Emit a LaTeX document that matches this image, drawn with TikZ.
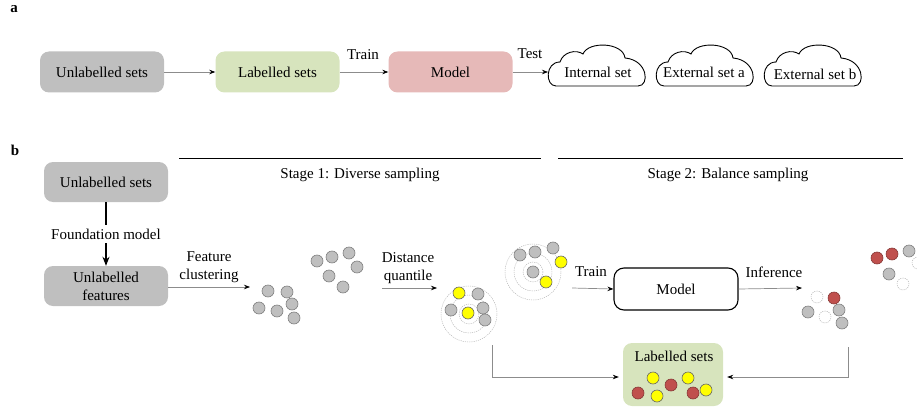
\documentclass[tikz,border=0pt]{standalone}
\usepackage{fontspec}
\setmainfont{Liberation Serif}
\usetikzlibrary{arrows.meta}
\definecolor{boxgray}{HTML}{BFBFBF}
\definecolor{boxgreen}{HTML}{D7E4BD}
\definecolor{boxred}{HTML}{E6B9B8}
\definecolor{dotgray}{HTML}{BFBFBF}
\definecolor{dotedge}{HTML}{7F7F7F}
\definecolor{dotyellow}{HTML}{FFFF00}
\definecolor{dotred}{HTML}{C0504D}
\definecolor{arrgray}{HTML}{8C8C8C}
\tikzset{
  txt/.style={font=\fontsize{15}{18}\selectfont, inner sep=1pt},
  panellabel/.style={font=\fontsize{15}{18}\selectfont\bfseries, inner sep=0pt},
  boxbase/.style={txt, rounded corners=9pt, minimum width=124pt, minimum height=41pt, align=center},
  graybox/.style={boxbase, fill=boxgray},
  greenbox/.style={boxbase, fill=boxgreen},
  redbox/.style={boxbase, fill=boxred},
  modelbox/.style={boxbase, draw=black, line width=1.1pt, rounded corners=10pt, minimum height=42pt},
  arr/.style={draw=arrgray, line width=0.7pt, -{Stealth[length=6pt,width=4.5pt,color=black]}},
  fmarr/.style={draw=black, line width=1.3pt, -{Stealth[length=9pt,width=7pt]}},
  cloudline/.style={draw=black, line width=0.9pt},
  gdot/.style={fill=dotgray, draw=dotedge, line width=0.6pt},
  ydot/.style={fill=dotyellow, draw=dotedge!80!black, line width=0.6pt},
  rdot/.style={fill=dotred, draw=dotred!70!black, line width=0.6pt},
  edot/.style={draw=dotedge!60, line width=0.5pt, dash pattern=on 1.2pt off 1pt},
  ring/.style={draw=gray!60, line width=0.45pt, dash pattern=on 1.2pt off 1pt},
  cloudshape/.pic={
    \draw[cloudline] (8,41) -- (90,41)
      .. controls (102,41) and (100,15) .. (77,13)
      .. controls (75,-3) and (40,-4) .. (35,9)
      .. controls (28,4) and (15,7) .. (12,17)
      .. controls (-3,17) and (-3,41) .. (8,41) -- cycle;
  }
}
\begin{document}
\begin{tikzpicture}[x=1pt,y=-1pt]
\useasboundingbox (0,0) rectangle (917,409);

% ---------------- panel a ----------------
\node[panellabel] (pa) at (14,9) {a};
\node[graybox] (ua) at (102,72) {Unlabelled sets};
\node[greenbox] (la) at (277.5,72) {Labelled sets};
\node[redbox] (ma) at (450.5,72) {Model};
\node[txt] (traina) at (363,55) {Train};
\node[txt] (testa) at (530,54) {Test};

\pic at (548,45) {cloudshape};
\pic at (656,45) {cloudshape};
\pic at (764,45) {cloudshape};
\node[txt] (int) at (598,72) {Internal set};
\node[txt] (exa) at (704,72) {External set a};
\node[txt] (exb) at (815,74) {External set b};
\coordinate (intL) at (548,72);

\draw[arr] (ua.east) -- (la.west);
\draw[arr] (la.east) -- (ma.west);
\draw[arr] (ma.east) -- (intL);

% ---------------- panel b ----------------
\node[panellabel] (pb) at (15,150) {b};
\coordinate (s1a) at (179,158);
\coordinate (s1b) at (541,158);
\coordinate (s2a) at (558,158);
\coordinate (s2b) at (903,158);
\draw[line width=1pt] (s1a) -- (s1b);
\draw[line width=1pt] (s2a) -- (s2b);
\node[txt] (st1) at (360,175) {Stage 1: Diverse sampling};
\node[txt] (st2) at (728,175) {Stage 2: Balance sampling};

\node[graybox, minimum height=40pt] (ub) at (106,182) {Unlabelled sets};
\node[txt, inner sep=4pt] (fm) at (106,234) {Foundation model};
\node[graybox, minimum height=40pt, font=\fontsize{15}{18}\selectfont] (uf) at (106,286) {Unlabelled\\features};
\draw[line width=1.3pt] (ub.south) -- (ub.south |- fm.north);
\draw[fmarr] (fm.south) -- (fm.south |- uf.north);

\node[txt, align=center, font=\fontsize{15}{18}\selectfont] (fc) at (209,267) {Feature\\clustering};
\coordinate (c1in) at (250,287);
\draw[arr] (uf.east |- c1in) -- (c1in);

% cluster 1 and 2
\foreach \p in {(268,291),(287,292),(259,308),(277,311),(292,304),(294,318),
                (317,261),(332,257),(349,253),(357,267),(329,276),(343,287)}
  \draw[gdot] \p circle[radius=6pt];

\node[txt, align=center, font=\fontsize{15}{18}\selectfont] (dq) at (408,268) {Distance\\quantile};
\coordinate (dqa) at (382,288);
\coordinate (dqb) at (437,288);
\draw[arr] (dqa) -- (dqb);

% cluster 3
\foreach \r in {10,19,28} \draw[ring] (469,314) circle[radius=\r pt];
\foreach \p in {(478,294),(451,310),(483,308),(485,320)} \draw[gdot] \p circle[radius=6pt];
\foreach \p in {(459,293),(468,313)} \draw[ydot] \p circle[radius=6pt];

% cluster 4
\foreach \r in {10,19,28} \draw[ring] (533,272) circle[radius=\r pt];
\foreach \p in {(520,255),(535,252),(553,248),(533,272)} \draw[gdot] \p circle[radius=6pt];
\foreach \p in {(561,262),(546,282)} \draw[ydot] \p circle[radius=6pt];

% model
\node[txt] (trainb) at (591,272) {Train};
\coordinate (tra) at (572,288);
\node[modelbox] (mb) at (676,289) {Model};
\draw[arr] (tra) -- (mb.west);
\node[txt] (inf) at (774,272) {Inference};
\coordinate (infb) at (802,288);
\draw[arr] (mb.east) -- (infb);

% cluster 5
\foreach \p in {(817,297),(825,317)} \draw[edot] \p circle[radius=6pt];
\draw[rdot] (834,298) circle[radius=6pt];
\foreach \p in {(808,312),(839,310),(842,323)} \draw[gdot] \p circle[radius=6pt];

% cluster 6
\foreach \p in {(877,258),(892,254)} \draw[rdot] \p circle[radius=6pt];
\foreach \p in {(909,251),(889,274)} \draw[gdot] \p circle[radius=6pt];
\foreach \p in {(903,284),(918,263)} \draw[edot] \p circle[radius=6pt];

% labelled sets
\node[fill=boxgreen, rounded corners=9pt, minimum width=100pt, minimum height=63pt] (lb) at (673,374.5) {};
\node[txt] (lbt) at (674,356) {Labelled sets};
\foreach \p in {(653,378),(657,396),(688,378),(706,390)} \draw[ydot] \p circle[radius=6pt];
\foreach \p in {(638,393),(671,385),(693,393)} \draw[rdot] \p circle[radius=6pt];

\coordinate (l1) at (492,345);
\coordinate (r1) at (848,347);
\draw[arr, shorten >=4pt] (l1) |- ([yshift=-2.5pt]lb.west);
\draw[arr, shorten >=4pt] (r1) |- ([yshift=-2.5pt]lb.east);
\end{tikzpicture}
\end{document}
